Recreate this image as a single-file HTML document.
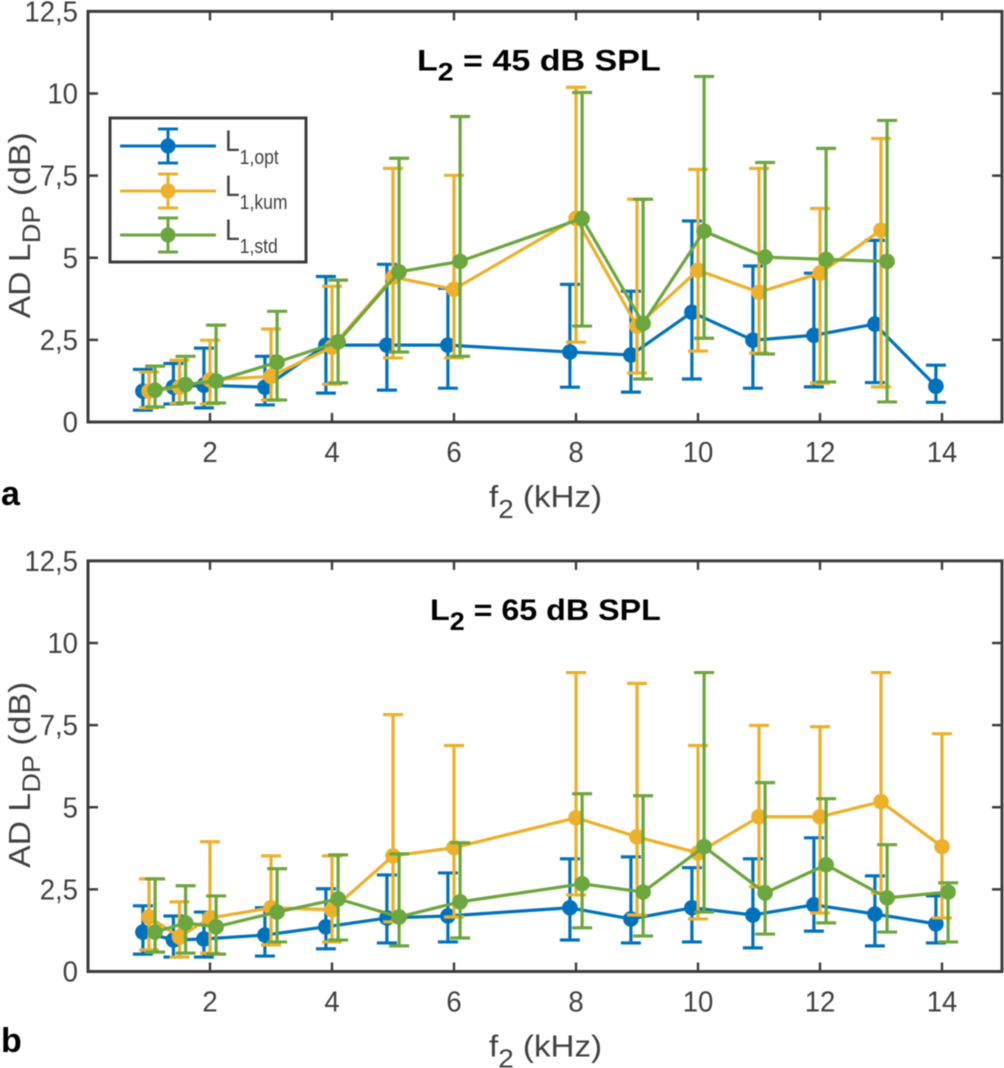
<!DOCTYPE html>
<html lang="de">
<head>
<meta charset="utf-8">
<title>AD LDP vs f2</title>
<style>
html,body{margin:0;padding:0;background:#fff;}
svg{display:block;filter:blur(0.4px);}
text{font-family:"Liberation Sans",Arial,sans-serif;fill:#404040;}
</style>
</head>
<body>
<svg id="figure" xmlns="http://www.w3.org/2000/svg" width="1004" height="1068" viewBox="0 0 1004 1068"></svg>
<script>
// Shared categories and ticks
var blueFreqs = [0.9,1.4,1.9,2.9,3.9,4.9,5.9,7.9,8.9,9.9,10.9,11.9,12.9,13.9];
var orangeFreqsA = [1,1.5,2,3,4,5,6,8,9,10,11,12,13];
var greenFreqsA = [1.1,1.6,2.1,3.1,4.1,5.1,6.1,8.1,9.1,10.1,11.1,12.1,13.1];
var orangeFreqsB = [1,1.5,2,3,4,5,6,8,9,10,11,12,13,14];
var greenFreqsB = [1.1,1.6,2.1,3.1,4.1,5.1,6.1,8.1,9.1,10.1,11.1,12.1,13.1,14.1];
var xTickValues = [2,4,6,8,10,12,14];
var yTickValues = [0,2.5,5,7.5,10,12.5];
var yTickLabels = ["0","2,5","5","7,5","10","12,5"];

// Panel a: L2 = 45 dB SPL
var aBlueMean = [0.94,1.06,1.12,1.06,2.34,2.34,2.34,2.13,2.04,3.34,2.49,2.64,2.98,1.09];
var aBlueHigh = [1.6,1.78,2.25,2.0,4.43,4.8,4.07,4.19,3.98,6.12,4.75,4.53,5.53,1.73];
var aBlueLow  = [0.36,0.55,0.43,0.52,0.88,0.97,1.03,1.06,0.91,1.31,1.03,1.07,1.2,0.6];
var aOrangeMean = [0.94,1.06,1.28,1.39,2.28,4.41,4.04,6.2,2.92,4.62,3.95,4.53,5.84];
var aOrangeHigh = [1.52,1.88,2.49,2.83,4.13,7.72,7.51,10.19,6.78,7.69,7.72,6.5,8.63];
var aOrangeLow  = [0.43,0.57,0.55,0.67,1.15,1.95,1.95,2.43,1.49,2.16,2.1,1.18,1.07];
var aGreenMean = [0.97,1.14,1.25,1.82,2.44,4.57,4.89,6.2,3.0,5.81,5.02,4.95,4.89];
var aGreenHigh = [1.7,2.0,2.95,3.37,4.32,8.03,9.3,10.03,6.78,10.52,7.9,8.33,9.18];
var aGreenLow  = [0.46,0.58,0.58,0.67,1.19,2.13,2.0,2.92,1.31,2.55,2.07,1.22,0.61];

// Panel b: L2 = 65 dB SPL
var bBlueMean = [1.2,0.96,0.99,1.11,1.36,1.63,1.69,1.94,1.6,1.94,1.72,2.03,1.75,1.45];
var bBlueHigh = [2.0,1.69,1.81,1.94,2.52,2.94,3.0,3.43,3.49,3.16,3.43,4.07,2.91,2.3];
var bBlueLow  = [0.53,0.44,0.44,0.47,0.69,0.87,0.9,0.96,0.87,0.9,0.72,1.23,0.78,0.87];
var bOrangeMean = [1.66,1.05,1.63,1.94,1.88,3.52,3.77,4.68,4.1,3.61,4.71,4.71,5.17,3.8];
var bOrangeHigh = [2.82,2.12,3.95,3.52,3.52,7.82,6.88,9.1,8.77,6.88,7.49,7.45,9.1,7.24];
var bOrangeLow  = [0.66,0.44,0.56,0.81,0.9,1.51,1.66,2.33,1.72,1.6,2.58,1.78,2.39,1.63];
var bGreenMean = [1.2,1.48,1.36,1.81,2.21,1.66,2.12,2.67,2.42,3.8,2.39,3.25,2.24,2.42];
var bGreenHigh = [2.82,2.61,2.3,3.13,3.55,3.58,3.92,5.41,5.35,9.1,5.75,5.26,3.86,2.7];
var bGreenLow  = [0.59,0.56,0.53,0.9,0.96,0.78,1.02,1.33,1.08,1.81,1.14,1.48,1.2,0.9];

var NS = "http://www.w3.org/2000/svg";
var svg = document.getElementById("figure");
var BLUE = "#0072bd", ORANGE = "#edb02a", GREEN = "#6ca63e", AXIS = "#3c3c3c";
var xLeft = 88, xRight = 1002, xPerUnit = 61;

function sx(v){ return xLeft + v * xPerUnit; }
function makeY(y0){ return function(v){ return y0 - v * 32.85; }; }

function mk(tag, parent, attrs){
  var el = document.createElementNS(NS, tag);
  for (var k in attrs) el.setAttribute(k, attrs[k]);
  parent.appendChild(el);
  return el;
}

// Text with an optional subscript run and a trailing run.
function addText(parent, x, y, parts, size, opts){
  opts = opts || {};
  var t = mk("text", parent, {
    "font-size": size,
    "text-anchor": opts.anchor || "start",
    "transform": "translate(" + x + " " + y + ")" + (opts.rotate ? " rotate(" + opts.rotate + ")" : "") + " scale(" + (opts.sx || 0.95) + " 1)"
  });
  if (opts.bold) t.setAttribute("font-weight", "bold");
  if (opts.fill) t.setAttribute("style", "fill:" + opts.fill);
  var sub = 0;
  parts.forEach(function(p){
    var s = mk("tspan", t, {});
    s.textContent = p.s;
    if (p.sub) {
      s.setAttribute("font-size", p.size || size * 0.78);
      s.setAttribute("dy", p.drop);
      sub = p.drop;
    } else if (sub) {
      s.setAttribute("dy", -sub);
      sub = 0;
    }
  });
  return t;
}

function drawSeries(g, name, color, freqs, mean, low, high, y){
  var sg = mk("g", g, {});
  
  
  freqs.forEach(function(f, i){
    var x = sx(f);
    var bar = mk("path", sg, {
      d: "M" + x + " " + y(high[i]) + "V" + y(low[i]) +
         "M" + (x - 10) + " " + y(high[i]) + "H" + (x + 10) +
         "M" + (x - 10) + " " + y(low[i]) + "H" + (x + 10),
      fill: "none", stroke: color, "stroke-width": 3.2
    });
    
    
  });
  var pts = freqs.map(function(f, i){ return sx(f) + "," + y(mean[i]); }).join(" ");
  var line = mk("polyline", sg, { points: pts, fill: "none", stroke: color, "stroke-width": 3.2, "stroke-linejoin": "round" });
  
  
  freqs.forEach(function(f, i){
    var dot = mk("circle", sg, { cx: sx(f), cy: y(mean[i]), r: 7.8, fill: color });
    
    
  });
}

function drawPanel(cfg){
  var y = makeY(cfg.y0);
  var g = mk("g", svg, {});
  
  

  drawSeries(g, "series-l1-opt", BLUE, blueFreqs, cfg.blue[0], cfg.blue[1], cfg.blue[2], y);
  drawSeries(g, "series-l1-kum", ORANGE, cfg.orangeX, cfg.orange[0], cfg.orange[1], cfg.orange[2], y);
  drawSeries(g, "series-l1-std", GREEN, cfg.greenX, cfg.green[0], cfg.green[1], cfg.green[2], y);

  var top = y(12.5), bot = y(0);
  var box = mk("rect", g, { x: xLeft, y: top, width: xRight - xLeft, height: bot - top, fill: "none", stroke: AXIS, "stroke-width": 3 });
  
  

  xTickValues.forEach(function(v){
    var x = sx(v);
    var tick = mk("path", g, { d: "M" + x + " " + bot + "v-9M" + x + " " + top + "v9", stroke: AXIS, "stroke-width": 2.4, fill: "none" });
    
    
    var lab = addText(g, x, bot + 40, [{s: String(v)}], 29, {anchor: "middle"});
    
    
  });

  yTickValues.forEach(function(v, i){
    var yy = y(v);
    if (v > 0 && v < 12.5) {
      var tick = mk("path", g, { d: "M" + xLeft + " " + yy + "h10M" + xRight + " " + yy + "h-10", stroke: AXIS, "stroke-width": 2.4, fill: "none" });
      
      
    }
    var lab = addText(g, 78, yy + 10, [{s: yTickLabels[i]}], 29, {anchor: "end"});
    
    
  });

  var ttl = addText(g, cfg.titleX, top + 59, [
    {s: "L"}, {s: "2", sub: true, drop: 10, size: 25}, {s: " = " + cfg.title}
  ], 30, {bold: true, sx: cfg.titleScale, fill: "#000"});
  
  

  var xl = addText(g, 489, bot + 85, [
    {s: "f"}, {s: "2", sub: true, drop: 11, size: 26}, {s: " (kHz)"}
  ], 31, {sx: 1.07});
  
  

  var yl = addText(g, 30, top + 307, [
    {s: "AD L"}, {s: "DP", sub: true, drop: 10, size: 25}, {s: " (dB)"}
  ], 31, {rotate: -90, sx: 1.09});
  
  

  var pl = addText(g, 1, cfg.letterY, [{s: cfg.letter}], 34, {bold: true, sx: 1, fill: "#000"});
  
  
}

function drawLegend(){
  var g = mk("g", svg, {});
  
  
  var r = mk("rect", g, { x: 110, y: 118, width: 196, height: 144, fill: "#fff", stroke: AXIS, "stroke-width": 3 });
  
  
  var entries = [["opt", BLUE, 146], ["kum", ORANGE, 191], ["std", GREEN, 235]];
  entries.forEach(function(e){
    var eg = mk("g", g, {});
    
    
    var yy = e[2];
    mk("path", eg, {
      d: "M120 " + yy + "H216M168 " + (yy - 17) + "V" + (yy + 17) + "M158 " + (yy - 17) + "H178M158 " + (yy + 17) + "H178",
      fill: "none", stroke: e[1], "stroke-width": 3
    });
    mk("circle", eg, { cx: 168, cy: yy, r: 7.6, fill: e[1] });
    addText(eg, 225, yy + 5, [{s: "L"}, {s: "1," + e[0], sub: true, drop: 13, size: 20}], 30, {sx: 0.88});
  });
}

drawPanel({
  name: "chart-l2-45", y0: 422, title: "45 dB SPL", titleX: 417, titleScale: 1.135, letter: "a", letterY: 505,
  blue: [aBlueMean, aBlueLow, aBlueHigh],
  orange: [aOrangeMean, aOrangeLow, aOrangeHigh],
  green: [aGreenMean, aGreenLow, aGreenHigh],
  orangeX: orangeFreqsA, greenX: greenFreqsA
});
drawPanel({
  name: "chart-l2-65", y0: 971.5, title: "65 dB SPL", titleX: 430, titleScale: 1.075, letter: "b", letterY: 1052,
  blue: [bBlueMean, bBlueLow, bBlueHigh],
  orange: [bOrangeMean, bOrangeLow, bOrangeHigh],
  green: [bGreenMean, bGreenLow, bGreenHigh],
  orangeX: orangeFreqsB, greenX: greenFreqsB
});
drawLegend();
</script>
</body>
</html>
